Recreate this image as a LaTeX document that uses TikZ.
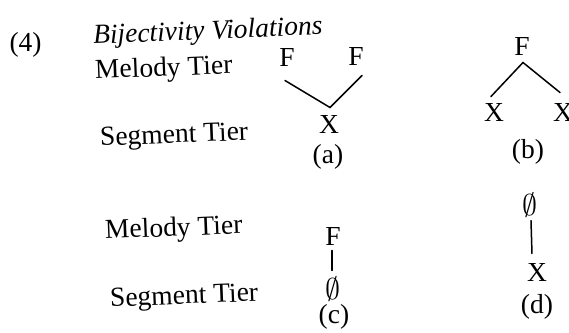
\documentclass[tikz,border=0pt]{standalone}
\usepackage{fontspec}
\setmainfont{Liberation Serif}

\begin{document}
\begin{tikzpicture}[
x=0.4pt, y=-0.4pt,
tierlabel/.style={anchor=base west, inner sep=0pt, rotate=2.3, font=\fontsize{11}{13}\selectfont},
seg/.style={inner sep=0pt, font=\fontsize{11}{13}\selectfont},
nullseg/.style={inner sep=0pt, font=\fontsize{12.5}{14}\selectfont},
caption/.style={inner sep=0pt, font=\fontsize{11}{13}\selectfont},
assoc/.style={line width=0.6pt, line cap=round}
]
\useasboundingbox (0,0) rectangle (569,333);

\node[tierlabel, rotate=-2.3] (ex_num) at (9,51) {(4)};
\node[tierlabel, rotate=0.1, font=\fontsize{11}{13}\selectfont\itshape] (ex_title) at (93,44) {Bijectivity Violations};

\node[tierlabel] (top_melody) at (95,79) {Melody Tier};
\node[tierlabel] (top_segment) at (100,146) {Segment Tier};
\node[tierlabel] (bot_melody) at (105,239) {Melody Tier};
\node[tierlabel] (bot_segment) at (110,307) {Segment Tier};

% (a) two melodies on one segment
\node[seg] (a_f1) at (287,57) {F};
\node[seg] (a_f2) at (356,56) {F};
\node[seg] (a_x) at (329,124) {X};
\node[caption] (a_cap) at (328,157) {(a)};
\draw[assoc] ([shift={(-2,14)}]a_f1.south) -- ([shift={(1,-7)}]a_x.north);
\draw[assoc] ([shift={(1,-7)}]a_x.north) -- ([shift={(6,10)}]a_f2.south);

% (b) one melody on two segments
\node[seg] (b_f) at (522,46) {F};
\node[seg] (b_x1) at (494,112) {X};
\node[seg] (b_x2) at (563,112) {X};
\node[caption] (b_cap) at (528,152) {(b)};
\draw[assoc] ([shift={(1,7)}]b_f.south) -- ([shift={(-3,-6)}]b_x1.north);
\draw[assoc] ([shift={(1,7)}]b_f.south) -- ([shift={(-3,-10)}]b_x2.north);

% (c) melody on empty segment
\node[seg] (c_f) at (333,236) {F};
\node[nullseg] (c_empty) at (333,289) {$\emptyset$};
\node[caption] (c_cap) at (334,317) {(c)};
\draw[assoc] ([shift={(-1,5)}]c_f.south) -- ([shift={(-1,-6)}]c_empty.north);

% (d) empty melody on segment
\node[nullseg] (d_empty) at (530,205) {$\emptyset$};
\node[seg] (d_x) at (537,272) {X};
\node[caption] (d_cap) at (537,307) {(d)};
\draw[assoc] ([shift={(1,3)}]d_empty.south) -- ([shift={(-5,-9)}]d_x.north);

\end{tikzpicture}
\end{document}
